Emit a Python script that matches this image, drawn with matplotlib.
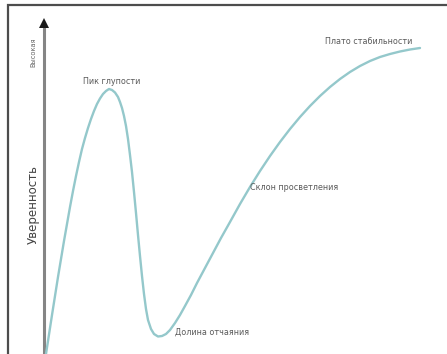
import matplotlib
matplotlib.use("Agg")
import matplotlib.pyplot as plt
from matplotlib.patches import Rectangle

# Confidence curve: experience (x) against confidence (y)
experience = [1, 4, 7, 10, 13, 16, 19, 22, 25, 28, 31, 34, 37, 40, 43, 46, 49, 52, 55, 58,
              61, 64, 67, 70, 73, 75, 77, 79, 81, 83, 85, 87, 89, 91, 93, 95, 97, 99,
              101, 103, 106, 109, 113, 117, 121, 125, 130, 135, 140, 146, 152, 160,
              168, 176, 185, 195, 205, 215, 225, 235, 245, 255, 265, 275, 285, 295,
              305, 315, 325, 335, 345, 355, 365, 375]
confidence = [0, 19.5, 39, 58, 77, 95, 113, 130, 147, 163, 178, 192, 205, 216, 226, 235,
              243, 250, 255.5, 260, 263, 265, 264, 261.5, 257, 252, 246, 238, 228, 215,
              199, 182, 162, 141, 119, 98, 78, 60, 45, 34, 25, 20, 17.5, 18, 20, 24,
              31, 39, 48, 59, 71, 86, 101, 116, 132, 150, 167, 183, 198, 212, 225,
              237, 248, 258, 267, 275, 282, 288, 293, 297, 300, 302.5, 304.5, 306]

# Stage labels and where they sit
stage_labels = ["Пик глупости", "Долина отчаяния", "Склон просветления", "Плато стабильности"]
stage_x = [67, 130, 205, 324]
stage_y = [273, 22, 166, 312]
stage_ha = ["center", "left", "left", "center"]

y_title = "Уверенность"
y_high = "Высокая"

W, H = 447, 354
fig = plt.figure(figsize=(W / 100, H / 100), dpi=100)
fig.patch.set_facecolor("white")

# outer frame
fig.add_artist(Rectangle((8 / W, -0.05), 1.2, 1 - 5 / H + 0.05,
                         transform=fig.transFigure, fill=False,
                         edgecolor="#4d4d4d", linewidth=1.6))

ax = fig.add_axes([45 / W, 0, 400 / W, 337 / H])
ax.set_xlim(0, 400)
ax.set_ylim(0, 337)
ax.axis("off")

# vertical confidence axis with a black arrowhead
ax.plot([-1, -1], [-5, 328], color="#858585", lw=2.2, clip_on=False,
        solid_capstyle="butt")
ax.plot([-1], [331], marker="^", color="#1a1a1a", markersize=6.5,
        markeredgewidth=0, clip_on=False)

ax.plot(experience, confidence, color="#94c8cb", lw=1.7,
        solid_joinstyle="round", solid_capstyle="round", clip_on=False)

for lab, x, y, ha in zip(stage_labels, stage_x, stage_y, stage_ha):
    ax.text(x, y, lab, ha=ha, va="center", fontsize=5.8, color="#5a5a5a")

ax.text(-12, 149, y_title, rotation=90, ha="center", va="center",
        fontsize=8.5, color="#444444", clip_on=False)
ax.text(-12, 302, y_high, rotation=90, ha="center", va="center",
        fontsize=4.8, color="#666666", clip_on=False)

fig.savefig("out.png", dpi=100, facecolor="white")
